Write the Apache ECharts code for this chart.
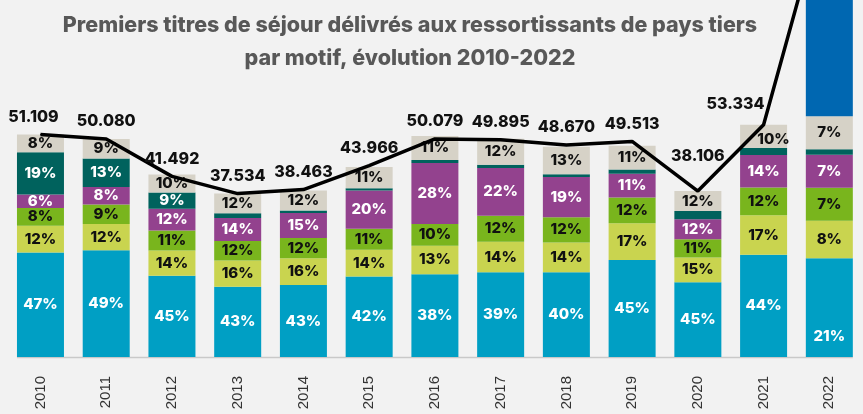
<!DOCTYPE html>
<html>
<head>
<meta charset="utf-8">
<script src="https://cdn.jsdelivr.net/npm/echarts@6/dist/echarts.min.js"></script>
<style>
  html, body { margin: 0; padding: 0; background: #f2f2f2; }
  #chart { width: 863px; height: 414px; }
</style>
</head>
<body>
<div id="chart"></div>
<script>
// Years on the category axis
const years = ['2010', '2011', '2012', '2013', '2014', '2015', '2016', '2017', '2018', '2019', '2020', '2021', '2022'];

// Total first residence permits per year
const totals = [51109, 50080, 41492, 37534, 38463, 43966, 50079, 49895, 48670, 49513, 38106, 53334, 108000];

// Share of each motive (%) per year, bottom to top of the stack
const familyPct       = [47, 49, 45, 43, 43, 42, 38, 39, 40, 45, 45, 44, 21];
const studyPct        = [12, 12, 14, 16, 16, 14, 13, 14, 14, 17, 15, 17, 8];
const workPct         = [8, 9, 11, 12, 12, 11, 10, 12, 12, 12, 11, 12, 7];
const humanitarianPct = [6, 8, 12, 14, 15, 20, 28, 22, 19, 11, 12, 14, 7];
const regularisationPct = [19, 13, 9, 3, 1.5, 1.2, 1.4, 1.5, 1.2, 2, 5, 3, 1.2];
const otherPct        = [8, 9, 10, 12, 12, 11, 11, 12, 13, 11, 12, 10, 7];
const temporaryPct    = [0, 0, 0, 0, 0, 0, 0, 0, 0, 0, 0, 0, 48.8];

const motives = [
  { name: 'Raisons familiales', pct: familyPct, color: '#009fc4', text: '#ffffff' },
  { name: 'Études', pct: studyPct, color: '#c9d44f', text: '#111111' },
  { name: 'Activités rémunérées', pct: workPct, color: '#79b51d', text: '#111111' },
  { name: 'Raisons humanitaires', pct: humanitarianPct, color: '#93428e', text: '#ffffff' },
  { name: 'Régularisation', pct: regularisationPct, color: '#00625d', text: '#ffffff' },
  { name: 'Autres', pct: otherPct, color: '#d6d2c7', text: '#111111' },
  { name: 'Protection temporaire', pct: temporaryPct, color: '#0067b1', text: '#ffffff', noLabel: true }
];

// Hand-placed label nudges (series index -> year index -> [dx, dy])
const pctLabelNudges = { 0: { 12: [0, 29] }, 5: { 11: [10, 3] } };
const totalLabelNudges = { 0: [-7, 0], 10: [0, -17], 11: [-28, -3] };

const thousands = n => String(n).replace(/\B(?=(\d{3})+(?!\d))/g, '.');
const BAR_W = 47;

const barSeries = motives.map((m, si) => ({
  name: m.name,
  type: 'bar',
  stack: 'total',
  barWidth: BAR_W,
  itemStyle: { color: m.color },
  label: {
    show: !m.noLabel,
    position: 'inside',
    color: m.text,
    fontFamily: 'Inter',
    fontWeight: 800,
    fontSize: 15,
    formatter: p => (p.data.pct >= 6 ? Math.round(p.data.pct) + '%' : '')
  },
  data: m.pct.map((p, i) => {
    const item = { value: totals[i] * p / 100, pct: p };
    const nudge = pctLabelNudges[si] && pctLabelNudges[si][i];
    if (nudge) item.label = { offset: nudge };
    return item;
  })
}));

const lineSeries = {
  name: 'Total',
  type: 'line',
  z: 5,
  symbol: 'circle',
  symbolSize: 1,
  lineStyle: { color: '#000', width: 3.5 },
  itemStyle: { color: '#000' },
  label: {
    show: true,
    position: 'top',
    distance: 9,
    color: '#111',
    fontFamily: 'Inter',
    fontWeight: 800,
    fontSize: 16,
    formatter: p => thousands(p.value)
  },
  data: totals.map((t, i) => {
    const item = { value: t };
    if (totalLabelNudges[i]) item.label = { offset: totalLabelNudges[i] };
    return item;
  })
};

const chart = echarts.init(document.getElementById('chart'), null, { renderer: 'canvas' });
chart.setOption({
  backgroundColor: '#f2f2f2',
  animation: false,
  title: {
    text: 'Premiers titres de séjour délivrés aux ressortissants de pays tiers\npar motif, évolution 2010-2022',
    left: 405,
    top: 4,
    textAlign: 'center',
    textStyle: {
      fontFamily: 'Inter',
      fontWeight: 800,
      fontSize: 21.5,
      lineHeight: 33,
      color: '#585858'
    }
  },
  grid: { left: 7.6, right: 0.8, top: 0, bottom: 57 },
  xAxis: {
    type: 'category',
    data: years,
    axisLine: { show: false },
    axisTick: { show: false },
    axisLabel: {
      rotate: 90,
      margin: 19,
      color: '#333',
      fontFamily: 'Liberation Sans',
      fontSize: 15
    }
  },
  yAxis: {
    type: 'value',
    min: 0,
    max: 82000,
    show: false
  },
  series: [...barSeries, lineSeries]
});

// Baseline spanning from the first bar's left edge to the last bar's right edge
const xFirst = chart.convertToPixel({ xAxisIndex: 0 }, years[0]);
const xLast = chart.convertToPixel({ xAxisIndex: 0 }, years[years.length - 1]);
const yBase = chart.convertToPixel({ yAxisIndex: 0 }, 0);
chart.setOption({
  graphic: [{
    type: 'line',
    z: 0,
    shape: { x1: xFirst - BAR_W / 2, y1: yBase + 0.5, x2: xLast + BAR_W / 2, y2: yBase + 0.5 },
    style: { stroke: '#c9c9c9', lineWidth: 1.5 }
  }]
});
</script>
</body>
</html>
